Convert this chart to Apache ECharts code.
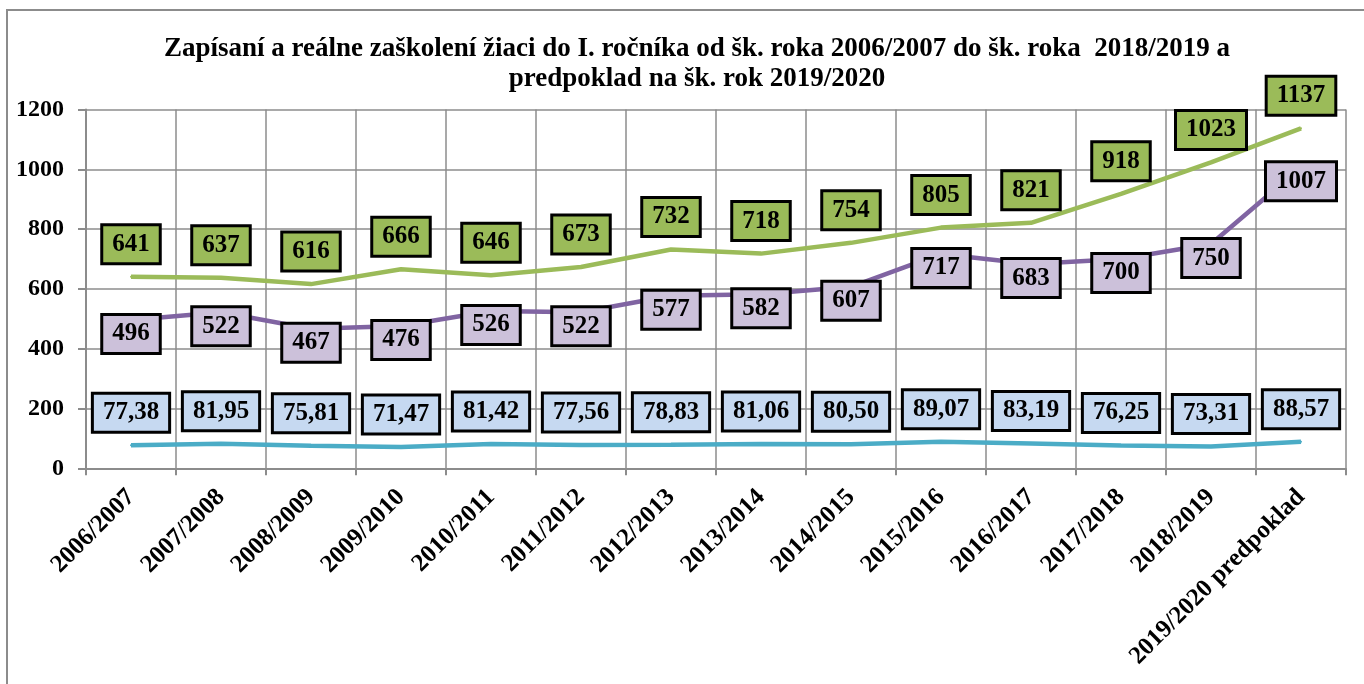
<!DOCTYPE html>
<html>
<head>
<meta charset="utf-8">
<script src="https://cdn.jsdelivr.net/npm/echarts@6/dist/echarts.min.js"></script>
<style>
html,body{margin:0;padding:0;background:#fff;}
#chart{width:1364px;height:684px;}
</style>
</head>
<body>
<div id="chart"></div>
<script>
var categories = ['2006/2007','2007/2008','2008/2009','2009/2010','2010/2011','2011/2012','2012/2013','2013/2014','2014/2015','2015/2016','2016/2017','2017/2018','2018/2019','2019/2020 predpoklad'];
var zapisani = [641,637,616,666,646,673,732,718,754,805,821,918,1023,1137];
var zaskoleni = [496,522,467,476,526,522,577,582,607,717,683,700,750,1007];
var percento = [77.38,81.95,75.81,71.47,81.42,77.56,78.83,81.06,80.50,89.07,83.19,76.25,73.31,88.57];
var yTicks = [0,200,400,600,800,1000,1200];

var FONT = '"Liberation Serif","Times New Roman",serif';
function boxLabel(bg, dy, fmt) {
  return {
    show: true, position: [1, 1 + dy], align: 'center', verticalAlign: 'middle',
    fontFamily: FONT, fontWeight: 'bold', fontSize: 25, color: '#000',
    lineHeight: 25, backgroundColor: bg, borderColor: '#000', borderWidth: 3,
    padding: [6, 9, 5, 9], formatter: fmt
  };
}
function lineSeries(data, color, z, label) {
  return {
    type: 'line', data: data, symbol: 'circle', symbolSize: 2, showSymbol: true, z: z,
    itemStyle: {color: color},
    lineStyle: {color: color, width: 4.5},
    label: label,
    labelLayout: {hideOverlap: false}
  };
}
var chart = echarts.init(document.getElementById('chart'), null, {renderer: 'canvas'});
chart.setOption({
  animation: false,
  backgroundColor: '#fff',
  title: {
    text: 'Zapísaní a reálne zaškolení žiaci do I. ročníka od šk. roka 2006/2007 do šk. roka  2018/2019 a\npredpoklad na šk. rok 2019/2020',
    left: 692, top: 29, textAlign: 'center',
    textStyle: {fontFamily: FONT, fontWeight: 'bold', fontSize: 27, lineHeight: 30, color: '#000'}
  },
  graphic: [
    {type: 'polyline', shape: {points: [[7, 684], [7, 10], [1364, 10]]}, style: {stroke: '#8c8c8c', lineWidth: 2, fill: null}}
  ],
  grid: {left: 86, right: 18, top: 109.5, bottom: 215.7, containLabel: false},
  xAxis: {
    type: 'category', data: categories, boundaryGap: true,
    axisLine: {lineStyle: {color: '#8c8c8c', width: 2}},
    axisTick: {show: true, length: 7, lineStyle: {color: '#8c8c8c', width: 2}},
    splitLine: {show: true, lineStyle: {color: '#8c8c8c', width: 1.5}},
    axisLabel: {rotate: 45, margin: 25, interval: 0, fontFamily: FONT, fontWeight: 'bold', fontSize: 25, color: '#000'}
  },
  yAxis: {
    type: 'value', min: yTicks[0], max: yTicks[yTicks.length - 1], interval: yTicks[1] - yTicks[0],
    axisLine: {show: true, lineStyle: {color: '#8c8c8c', width: 2}},
    axisTick: {show: true, length: 8, lineStyle: {color: '#8c8c8c', width: 2}},
    splitLine: {show: true, lineStyle: {color: '#8c8c8c', width: 1.5}},
    axisLabel: {margin: 22, fontFamily: FONT, fontWeight: 'bold', fontSize: 24, color: '#000', formatter: function (v) { return String(v); }}
  },
  series: [
    lineSeries(percento, '#4bacc6', 3, boxLabel('#c6d9f1', -32.5, function (p) { return p.value.toFixed(2).replace('.', ','); })),
    lineSeries(zaskoleni, '#8064a2', 4, boxLabel('#ccc1da', 14, function (p) { return String(p.value); })),
    lineSeries(zapisani, '#9bbb59', 5, boxLabel('#9bbb59', -32.5, function (p) { return String(p.value); }))
  ]
});
</script>
</body>
</html>
